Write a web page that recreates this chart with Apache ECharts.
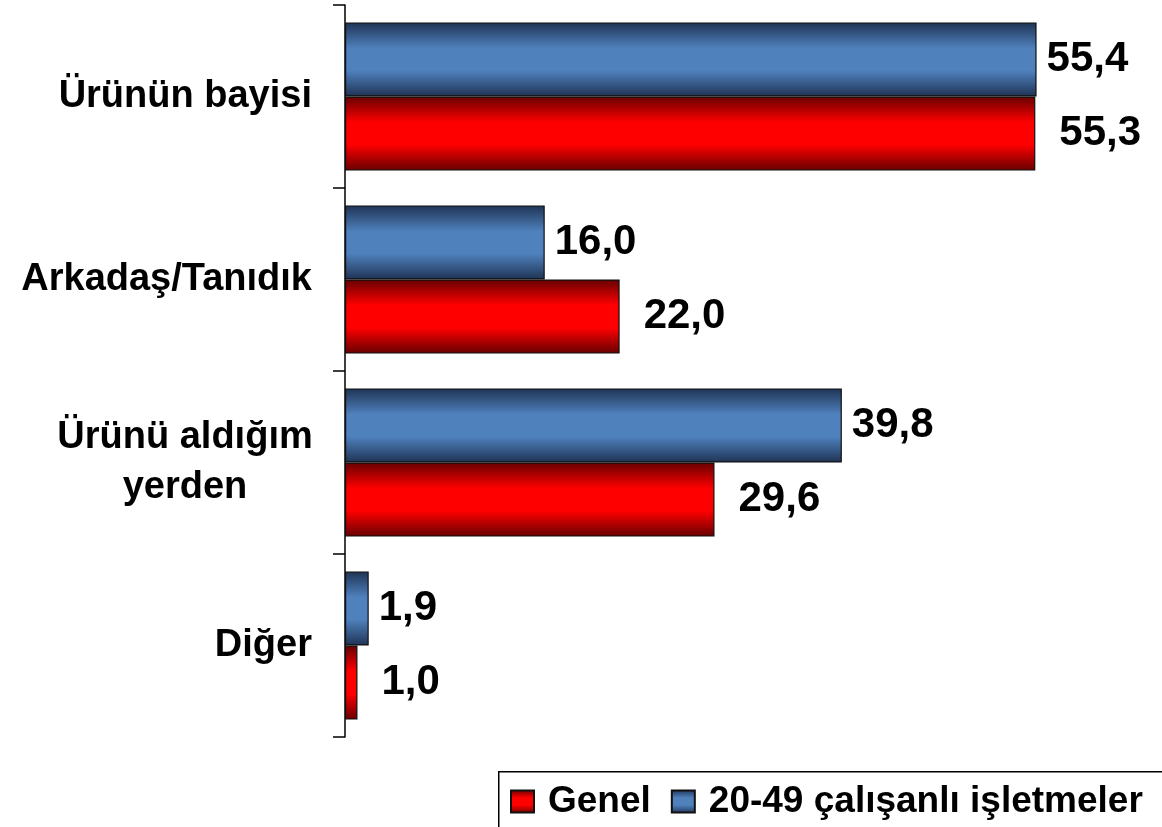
<!DOCTYPE html>
<html>
<head>
<meta charset="utf-8">
<script src="https://cdn.jsdelivr.net/npm/echarts@6/dist/echarts.min.js"></script>
<style>
  html, body { margin: 0; padding: 0; background: #fff; }
  #chart { width: 1162px; height: 827px; }
</style>
</head>
<body>
<div id="chart"></div>
<script>
// Categories (top to bottom) and the two series
const categories = ['Ürünün bayisi', 'Arkadaş/Tanıdık', 'Ürünü aldığım\nyerden', 'Diğer'];
const seriesNames = ['Genel', '20-49 çalışanlı işletmeler'];
const genel = [55.3, 22.0, 29.6, 1.0];
const isletmeler = [55.4, 16.0, 39.8, 1.9];

const FONT = "'Liberation Sans', Arial, Helvetica, sans-serif";

// Vertical shading: dark at the top and bottom edges, bright in the middle
function cylinder(edge, mid) {
  return new echarts.graphic.LinearGradient(0, 0, 0, 1, [
    { offset: 0, color: edge },
    { offset: 0.35, color: mid },
    { offset: 0.5, color: mid },
    { offset: 0.65, color: mid },
    { offset: 1, color: edge }
  ]);
}

const fmt = p => p.value.toFixed(1).replace('.', ',');

const valueLabel = (distance) => ({
  show: true,
  position: 'right',
  distance: distance,
  formatter: fmt,
  color: '#000',
  fontFamily: FONT,
  fontWeight: 'bold',
  fontSize: 42
});

const chart = echarts.init(document.getElementById('chart'), null, { renderer: 'canvas' });

chart.setOption({
  animation: false,
  backgroundColor: '#ffffff',
  textStyle: { fontFamily: FONT },
  grid: {
    left: 345,
    right: 68,
    top: 5,
    bottom: 90,
    containLabel: false,
    outerBoundsMode: 'none'
  },
  // Legend frame, running off the right and bottom edges
  graphic: [{
    type: 'rect',
    left: 498,
    top: 771,
    shape: { width: 720, height: 100 },
    style: { fill: '#fff', stroke: '#000', lineWidth: 1.5 },
    z: 0
  }],
  legend: {
    data: [seriesNames[0], seriesNames[1]],
    left: 510,
    top: 783,
    orient: 'horizontal',
    icon: 'rect',
    itemWidth: 23,
    itemHeight: 22,
    itemGap: 20,
    padding: 0,
    z: 5,
    textStyle: {
      color: '#000',
      fontFamily: FONT,
      fontWeight: 'bold',
      fontSize: 37,
      padding: [0, 0, 0, 9]
    }
  },
  xAxis: {
    type: 'value',
    min: 0,
    max: 60,
    show: false
  },
  yAxis: {
    type: 'category',
    inverse: true,
    data: categories,
    axisLine: { show: true, lineStyle: { color: '#000', width: 1.5 } },
    axisTick: { show: true, length: 12, inside: false, lineStyle: { color: '#000', width: 1.5 } },
    axisLabel: {
      margin: 33,
      color: '#000',
      fontFamily: FONT,
      fontWeight: 'bold',
      fontSize: 38,
      lineHeight: 50,
      formatter: function (v) {
        if (v.indexOf('\n') < 0) return v;
        return v.split('\n').map(s => '{c|' + s + '}').join('\n');
      },
      rich: {
        c: {
          width: 254,
          align: 'center',
          color: '#000',
          fontFamily: FONT,
          fontWeight: 'bold',
          fontSize: 38,
          lineHeight: 50
        }
      }
    },
    splitLine: { show: false }
  },
  series: [
    {
      name: seriesNames[1],
      type: 'bar',
      data: isletmeler,
      barGap: '0%',
      barCategoryGap: '19%',
      itemStyle: {
        color: cylinder('#1f3354', '#4f81bd'),
        borderColor: '#111',
        borderWidth: 1.2
      },
      label: valueLabel(10)
    },
    {
      name: seriesNames[0],
      type: 'bar',
      data: genel,
      barGap: '0%',
      barCategoryGap: '19%',
      itemStyle: {
        color: cylinder('#660000', '#ff0000'),
        borderColor: '#111',
        borderWidth: 1.2
      },
      label: valueLabel(24)
    }
  ]
});
</script>
</body>
</html>
